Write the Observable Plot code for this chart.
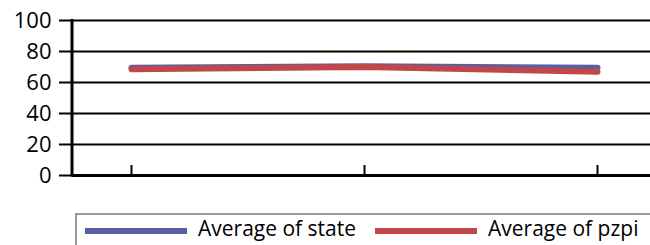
<!DOCTYPE html>
<html><head><meta charset="utf-8">
<script src="https://cdn.jsdelivr.net/npm/d3@7"></script>
<script src="https://cdn.jsdelivr.net/npm/@observablehq/plot@0.6"></script>
<style>
html,body{margin:0;padding:0;background:#fff;overflow:hidden;}
#wrap{position:relative;width:650px;height:245px;font-family:"Open Sans",sans-serif;}
#legend{position:absolute;left:75px;top:213px;width:600px;height:40px;border:2px solid #999;box-sizing:border-box;font-size:21px;color:#000;}
.sw{position:absolute;top:13px;width:102px;height:6px;}
.tx{position:absolute;top:3px;line-height:21px;white-space:nowrap;}
</style></head><body>
<div id="wrap"><div id="chart"></div><div id="legend"></div></div>
<script>
const categories = ["1", "2", "3"];
const stateValues = [69.5, 70.5, 69.5];
const pzpiValues = [68.5, 70, 67];
const yTicks = [0, 20, 40, 60, 80, 100];
const seriesNames = ["Average of state", "Average of pzpi"];
const seriesColors = ["#5b5ea3", "#c0474a"];

const data = [];
categories.forEach((c, i) => {
  data.push({cat: c, value: stateValues[i], series: seriesNames[0]});
  data.push({cat: c, value: pzpiValues[i], series: seriesNames[1]});
});

const chart = Plot.plot({
  width: 650,
  height: 200,
  marginLeft: 72,
  marginRight: 0,
  marginTop: 20,
  marginBottom: 25,
  style: {fontFamily: "'Open Sans', sans-serif", fontSize: "22px", color: "#000", background: "#fff"},
  x: {type: "point", domain: categories, range: [130, 597], padding: 0},
  y: {domain: [0, 100]},
  color: {domain: seriesNames, range: seriesColors},
  marks: [
    Plot.ruleY(yTicks.filter(d => d > 0), {stroke: "#000", strokeWidth: 2}),
    Plot.axisY({ticks: yTicks, tickSize: 13, tickPadding: 8, strokeWidth: 2, stroke: "#000", label: null, fontSize: 22}),
    Plot.lineY(data.filter(d => d.series === seriesNames[0]), {x: "cat", y: "value", stroke: "series", strokeWidth: 6}),
    Plot.lineY(data.filter(d => d.series === seriesNames[1]), {x: "cat", y: "value", stroke: "series", strokeWidth: 6}),
    Plot.axisX({tickSize: -10, tickFormat: () => "", strokeWidth: 2, label: null}),
    Plot.ruleY([0], {stroke: "#000", strokeWidth: 3})
  ]
});
document.getElementById("chart").appendChild(chart);

// vertical y axis line using the chart's own y scale
const ys = chart.scale("y");
d3.select(chart).append("line").attr("x1", 72).attr("x2", 72)
  .attr("y1", ys.apply(100) - 1).attr("y2", ys.apply(0) + 1.5)
  .attr("stroke", "#000").attr("stroke-width", 3);

const lg = document.getElementById("legend");
const swLeft = [8, 298], txLeft = [121, 411];
seriesNames.forEach((n, i) => {
  const sw = document.createElement("div");
  sw.className = "sw";
  sw.style.left = swLeft[i] + "px";
  sw.style.background = seriesColors[i];
  lg.appendChild(sw);
  const tx = document.createElement("div");
  tx.className = "tx";
  tx.style.left = txLeft[i] + "px";
  tx.textContent = n;
  lg.appendChild(tx);
});
</script>
</body></html>
